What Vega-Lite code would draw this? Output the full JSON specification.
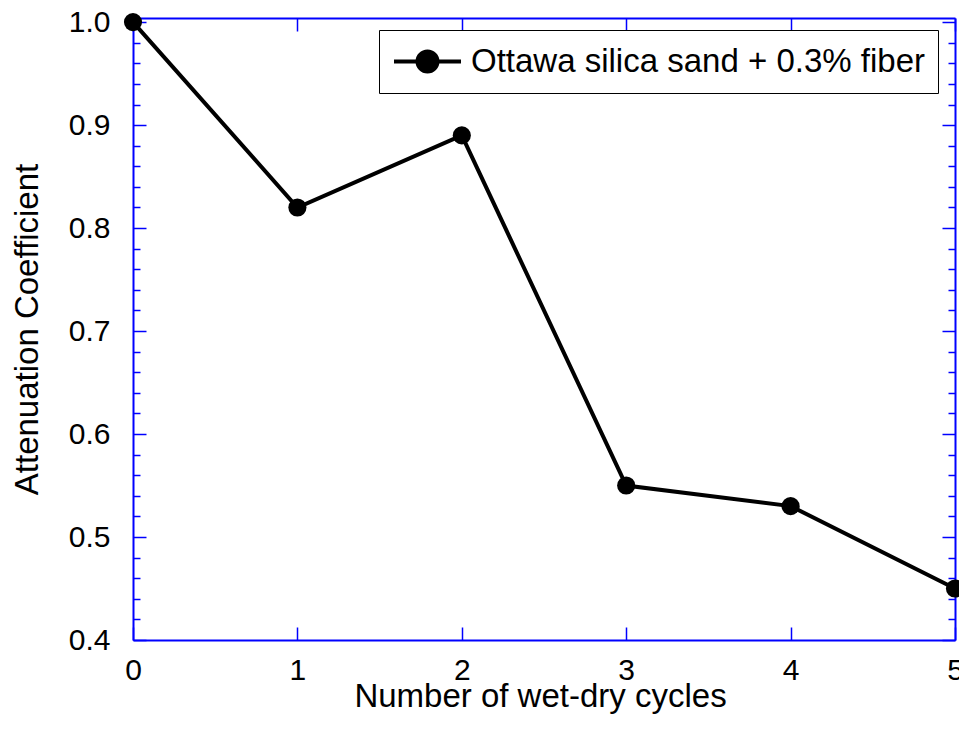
{
  "$schema": "https://vega.github.io/schema/vega-lite/v6.json",
  "width": 822,
  "height": 622,
  "autosize": {"type": "none"},
  "padding": {"left": 133, "top": 18, "right": 4, "bottom": 94},
  "background": "white",
  "config": {
    "view": {"stroke": null},
    "font": "Liberation Sans",
    "axis": {"grid": false, "labelColor": "black", "titleColor": "black", "titleFontWeight": "normal", "labelFlush": false, "labelOverlap": false}
  },
  "data": {
    "values": [
      {"cycles": 0, "coef": 1.0, "series": "Ottawa silica sand + 0.3% fiber"},
      {"cycles": 1, "coef": 0.82, "series": "Ottawa silica sand + 0.3% fiber"},
      {"cycles": 2, "coef": 0.89, "series": "Ottawa silica sand + 0.3% fiber"},
      {"cycles": 3, "coef": 0.55, "series": "Ottawa silica sand + 0.3% fiber"},
      {"cycles": 4, "coef": 0.53, "series": "Ottawa silica sand + 0.3% fiber"},
      {"cycles": 5, "coef": 0.45, "series": "Ottawa silica sand + 0.3% fiber"}
    ]
  },
  "resolve": {"axis": {"x": "independent", "y": "independent"}},
  "layer": [
    {
      "mark": {"type": "line", "strokeWidth": 4, "clip": false},
      "encoding": {
        "x": {"field": "cycles", "type": "quantitative",
          "scale": {"domain": [0, 5], "nice": false, "zero": false},
          "axis": {"orient": "bottom", "title": "Number of wet-dry cycles", "ticks": false, "domain": true, "domainColor": "#0000ff", "domainWidth": 2,
            "values": [0, 1, 2, 3, 4, 5], "format": "d", "labelFontSize": 30, "labelPadding": 15,
            "titleFontSize": 33, "titleBaseline": "alphabetic", "titleX": 407, "titleY": 66}},
        "y": {"field": "coef", "type": "quantitative",
          "scale": {"domain": [0.4, 1.004], "nice": false, "zero": false},
          "axis": {"orient": "left", "title": "Attenuation Coefficient", "ticks": false, "domain": true, "domainColor": "#0000ff", "domainWidth": 2,
            "values": [0.4, 0.5, 0.6, 0.7, 0.8, 0.9, 1.0], "format": ".1f", "labelFontSize": 30, "labelPadding": 23,
            "titleFontSize": 33, "titleBaseline": "alphabetic", "titleAngle": -90, "titleX": -96, "titleY": 311}},
        "color": {"field": "series", "type": "nominal", "scale": {"range": ["black"]},
          "legend": {"orient": "none", "legendX": 246, "legendY": 12, "title": null, "padding": 13,
            "strokeColor": "black", "fillColor": "white", "labelFontSize": 33, "labelColor": "black", "labelOffset": 42, "labelLimit": 0,
            "symbolSize": 1089, "symbolStrokeWidth": 4,
            "encode": {"symbols": {"update": {"fill": {"value": "black"}, "stroke": {"value": "black"}, "strokeWidth": {"value": 4}, "opacity": {"value": 1},
              "shape": {"value": "M-1,0H3.06M0.424,0A0.606,0.606,0,1,1,1.636,0A0.606,0.606,0,1,1,0.424,0Z"}, "size": {"value": 1089}}}}}}
      }
    },
    {
      "mark": {"type": "point", "filled": true, "size": 330, "opacity": 1, "color": "black", "clip": false},
      "encoding": {
        "x": {"field": "cycles", "type": "quantitative",
          "axis": {"orient": "bottom", "title": null, "labels": false, "domain": false, "ticks": true, "tickSize": -13, "tickWidth": 1.5, "tickColor": "#0000ff", "values": [0, 1, 2, 3, 4, 5]}},
        "y": {"field": "coef", "type": "quantitative",
          "axis": {"orient": "left", "title": null, "labels": false, "domain": false, "ticks": true, "tickSize": -13, "tickWidth": 1.5, "tickColor": "#0000ff", "values": [0.4, 0.5, 0.6, 0.7, 0.8, 0.9, 1.0]}}
      }
    },
    {
      "mark": {"type": "point", "opacity": 0},
      "encoding": {
        "x": {"field": "cycles", "type": "quantitative",
          "axis": {"orient": "top", "title": null, "labels": false, "domain": true, "domainColor": "#0000ff", "domainWidth": 2, "ticks": true, "tickSize": -13, "tickWidth": 1.5, "tickColor": "#0000ff", "values": [0, 1, 2, 3, 4, 5]}},
        "y": {"field": "coef", "type": "quantitative",
          "axis": {"orient": "left", "title": null, "labels": false, "domain": false, "ticks": true, "tickSize": -7, "tickWidth": 1.5, "tickColor": "#0000ff",
            "values": [0.42, 0.44, 0.46, 0.48, 0.52, 0.54, 0.56, 0.58, 0.62, 0.64, 0.66, 0.68, 0.72, 0.74, 0.76, 0.78, 0.82, 0.84, 0.86, 0.88, 0.92, 0.94, 0.96, 0.98]}}
      }
    },
    {
      "mark": {"type": "point", "opacity": 0},
      "encoding": {
        "x": {"field": "cycles", "type": "quantitative", "axis": null},
        "y": {"field": "coef", "type": "quantitative",
          "axis": {"orient": "right", "title": null, "labels": false, "domain": true, "domainColor": "#0000ff", "domainWidth": 2, "ticks": true, "tickSize": -13, "tickWidth": 1.5, "tickColor": "#0000ff", "values": [0.4, 0.5, 0.6, 0.7, 0.8, 0.9, 1.0]}}
      }
    },
    {
      "mark": {"type": "point", "opacity": 0},
      "encoding": {
        "x": {"field": "cycles", "type": "quantitative", "axis": null},
        "y": {"field": "coef", "type": "quantitative",
          "axis": {"orient": "right", "title": null, "labels": false, "domain": false, "ticks": true, "tickSize": -7, "tickWidth": 1.5, "tickColor": "#0000ff",
            "values": [0.42, 0.44, 0.46, 0.48, 0.52, 0.54, 0.56, 0.58, 0.62, 0.64, 0.66, 0.68, 0.72, 0.74, 0.76, 0.78, 0.82, 0.84, 0.86, 0.88, 0.92, 0.94, 0.96, 0.98]}}
      }
    }
  ]
}
